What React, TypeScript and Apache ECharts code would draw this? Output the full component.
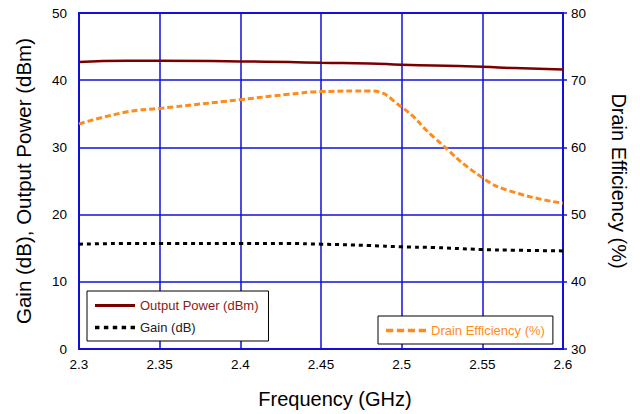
import React, { useEffect, useRef } from "react";
import * as echarts from "echarts";

const freq = [2.3, 2.33, 2.35, 2.4, 2.43, 2.45, 2.48, 2.5, 2.52, 2.55, 2.57, 2.6];
const outputPower = [42.7, 42.9, 42.9, 42.8, 42.7, 42.6, 42.5, 42.3, 42.2, 42.0, 41.8, 41.6];
const gain = [15.6, 15.7, 15.7, 15.7, 15.7, 15.6, 15.4, 15.2, 15.1, 14.8, 14.7, 14.6];
const efficiency = [63.5, 65.3, 65.8, 67.1, 67.9, 68.3, 68.4, 66.0, 61.5, 55.5, 53.3, 51.7];

const BLUE = "#1010d8";
const FONT = "Liberation Sans, Arial, sans-serif";

export default function App() {
  const ref = useRef<HTMLDivElement>(null);
  useEffect(() => {
    const chart = echarts.init(ref.current!, null, { renderer: "svg" });
    const pair = (ys: number[]) => freq.map((f, i) => [f, ys[i]]);
    chart.setOption({
      animation: false,
      backgroundColor: "#fff",
      textStyle: { fontFamily: FONT },
      grid: { left: 79, right: 77, top: 13, bottom: 64, show: true, borderColor: BLUE, borderWidth: 2 },
      xAxis: {
        type: "value", min: 2.3, max: 2.6, interval: 0.05,
        name: "Frequency (GHz)", nameLocation: "middle", nameGap: 40,
        nameTextStyle: { fontSize: 20, color: "#000", fontFamily: FONT, padding: [0, 0, 0, 28] },
        axisLine: { lineStyle: { color: BLUE, width: 2 } },
        axisTick: { show: false },
        axisLabel: { color: "#000", fontSize: 13.5, fontFamily: FONT, formatter: (v: number) => String(parseFloat(v.toFixed(2))) },
        splitLine: { lineStyle: { color: BLUE, width: 1.5 } },
      },
      yAxis: [
        {
          type: "value", min: 0, max: 50, interval: 10, position: "left",
          name: "Gain (dB), Output Power (dBm)", nameLocation: "middle", nameGap: 45,
          nameTextStyle: { fontSize: 20.5, color: "#000", fontFamily: FONT },
          axisLine: { show: true, lineStyle: { color: BLUE, width: 2 } },
          axisTick: { show: false },
          axisLabel: { color: "#000", fontSize: 13.5, fontFamily: FONT, margin: 12 },
          splitLine: { lineStyle: { color: BLUE, width: 1.5 } },
        },
        {
          type: "value", min: 30, max: 80, interval: 10, position: "right",
          name: "Drain Efficiency (%)", nameLocation: "middle", nameGap: 46, nameRotate: -90,
          nameTextStyle: { fontSize: 20, color: "#000", fontFamily: FONT },
          axisLine: { show: true, lineStyle: { color: BLUE, width: 2 } },
          axisTick: { show: true, length: 4, lineStyle: { color: BLUE, width: 1.5 } },
          axisLabel: { color: "#000", fontSize: 13.5, fontFamily: FONT, margin: 8 },
          splitLine: { show: false },
        },
      ],
      legend: [
        {
          orient: "vertical", left: 87, top: 291, itemGap: 9, itemWidth: 40, itemHeight: 10,
          padding: [8, 10, 7, 8],
          borderColor: "#000", borderWidth: 1, backgroundColor: "#fff",
          textStyle: { fontSize: 13, fontFamily: FONT },
          data: [
            { name: "Output Power (dBm)", icon: "path://M0,0L40,0L40,3L0,3Z", textStyle: { color: "#8b1a1a" } },
            { name: "Gain (dB)", icon: "path://M0,0L4,0L4,3L0,3ZM8,0L12,0L12,3L8,3ZM16,0L20,0L20,3L16,3ZM24,0L28,0L28,3L24,3ZM32,0L36,0L36,3L32,3Z", textStyle: { color: "#222" } },
          ],
        },
        {
          orient: "vertical", left: 378, top: 316, itemWidth: 40, itemHeight: 10,
          padding: [8, 8, 7, 8],
          borderColor: "#000", borderWidth: 1, backgroundColor: "#fff",
          textStyle: { fontSize: 13, fontFamily: FONT },
          data: [
            { name: "Drain Efficiency (%)", icon: "path://M0,0L6,0L6,3L0,3ZM9,0L15,0L15,3L9,3ZM18,0L24,0L24,3L18,3ZM27,0L33,0L33,3L27,3Z", textStyle: { color: "#ff8c1a" } },
          ],
        },
      ],
      series: [
        {
          name: "Output Power (dBm)", type: "line", yAxisIndex: 0, smooth: true, symbol: "none",
          data: pair(outputPower), color: "#7a0000",
          lineStyle: { color: "#7a0000", width: 2.5 }, z: 3,
        },
        {
          name: "Gain (dB)", type: "line", yAxisIndex: 0, smooth: true, symbol: "none",
          data: pair(gain), color: "#000",
          lineStyle: { color: "#000", width: 3, type: [4, 4] }, z: 3,
        },
        {
          name: "Drain Efficiency (%)", type: "line", yAxisIndex: 1, smooth: true, symbol: "none",
          data: pair(efficiency), color: "#ff8c1a",
          lineStyle: { color: "#ff8c1a", width: 3, type: [6, 3] }, z: 3,
        },
      ],
    });
    return () => chart.dispose();
  }, []);
  return <div ref={ref} style={{ width: 640, height: 414, position: "absolute", left: 0, top: 0 }} />;
}
